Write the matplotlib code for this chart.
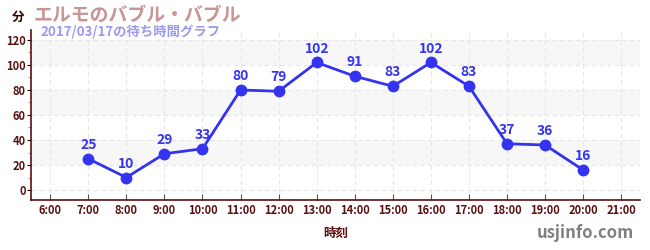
import matplotlib
matplotlib.use('Agg')
import matplotlib.pyplot as plt
import numpy as np

plt.rcParams['font.family'] = ['Noto Sans CJK JP', 'DejaVu Sans']

hours = [7, 8, 9, 10, 11, 12, 13, 14, 15, 16, 17, 18, 19, 20]
waits = [25, 10, 29, 33, 80, 79, 102, 91, 83, 102, 83, 37, 36, 16]
tick_hours = list(range(6, 22))
tick_labels = ['%d:00' % h for h in tick_hours]

dark = '#5a0f0f'
blue = '#3333f0'

fig = plt.figure(figsize=(6.5, 2.5), dpi=100, facecolor='w')
ax = fig.add_axes([0.048, 0.2, 0.937, 0.68])
ax.set_xlim(5.5, 21.5)
ax.set_ylim(-8, 128)

# alternating bands
for lo in (20, 60, 100):
    ax.axhspan(lo, lo + 20, facecolor='#f7f7f7', lw=0, zorder=0)
ax.grid(True, which='major', color='#e6e6e6', linestyle=(0, (4, 3)), lw=0.8, zorder=1)

ax.plot(hours, waits, '-o', color=blue, lw=2.0, ms=7.5, zorder=3)
for h, w in zip(hours, waits):
    ax.annotate(str(w), (h, w), xytext=(0, 5), textcoords='offset points',
                ha='center', va='bottom', color=blue, fontsize=10, fontweight='bold')

ax.set_xticks(tick_hours)
ax.set_xticklabels(tick_labels)
ax.set_yticks(np.arange(0, 121, 20))
ax.set_yticks(np.arange(10, 121, 20), minor=True)
ax.tick_params(axis='x', direction='in', length=4, color='#555555', labelsize=8,
               labelcolor=dark, pad=3)
ax.tick_params(axis='y', which='major', direction='out', length=3, color='black',
               labelsize=8, labelcolor=dark, pad=1)
ax.tick_params(axis='y', which='minor', direction='out', length=2.5, color='#ff6666')
for lab in ax.get_xticklabels() + ax.get_yticklabels():
    lab.set_fontweight('bold')

for s in ('top', 'right'):
    ax.spines[s].set_visible(False)
ax.spines['left'].set_color(dark)
ax.spines['bottom'].set_color(dark)
ax.spines['left'].set_linewidth(1.2)
ax.spines['bottom'].set_linewidth(1.2)

ax.set_xlabel('時刻', color=dark, fontsize=9, fontweight='bold', labelpad=7)

fig.text(0.018, 0.932, '分', color='#330000', fontsize=9, fontweight='bold', va='center')
fig.text(0.052, 0.937, 'エルモのバブル・バブル', color='#c89494', fontsize=13.6,
         fontweight='bold', va='center')
fig.text(0.062, 0.876, '2017/03/17の待ち時間グラフ', color='#9a9af0', fontsize=9.6,
         fontweight='bold', va='center')
fig.text(0.975, 0.07, 'usjinfo.com', color='#808080', fontsize=12, fontweight='bold',
         ha='right', va='center')

fig.savefig('out.png', dpi=100)
